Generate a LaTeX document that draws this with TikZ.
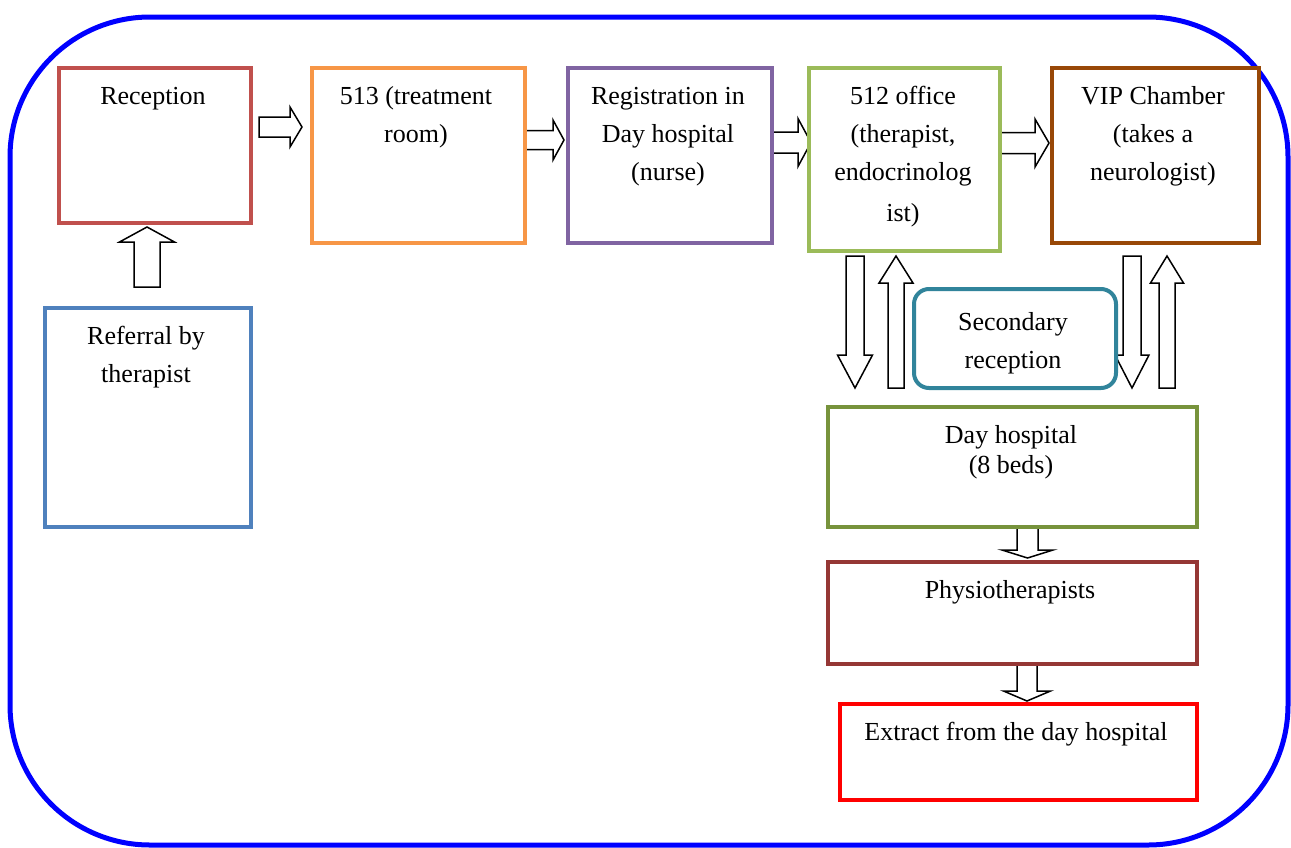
\documentclass[tikz,border=0pt]{standalone}
\usepackage{fontspec}
\setmainfont{Liberation Serif}
\definecolor{cRec}{HTML}{C0504D}
\definecolor{cTreat}{HTML}{F79646}
\definecolor{cReg}{HTML}{8064A2}
\definecolor{cOff}{HTML}{9BBB59}
\definecolor{cVip}{HTML}{984807}
\definecolor{cRef}{HTML}{4F81BD}
\definecolor{cSec}{HTML}{31849B}
\definecolor{cDay}{HTML}{77933C}
\definecolor{cPhy}{HTML}{953735}
\definecolor{cExt}{HTML}{FF0000}
\newcommand\blockH[6]{\draw[blockarrow] (#1,{#3-#5}) -- (#6,{#3-#5}) -- (#6,{#3-#4}) -- (#2,#3) -- (#6,{#3+#4}) -- (#6,{#3+#5}) -- (#1,{#3+#5}) -- cycle;}
\newcommand\blockV[6]{\draw[blockarrow] ({#3-#5},#1) -- ({#3-#5},#6) -- ({#3-#4},#6) -- (#3,#2) -- ({#3+#4},#6) -- ({#3+#5},#6) -- ({#3+#5},#1) -- cycle;}
\newcommand\lines[1]{\begin{tabular}[t]{@{}c@{}}#1\end{tabular}}
\tikzset{
  box/.style={draw=#1, line width=4pt, fill=white, inner sep=0pt, anchor=north west},
  txt/.style={anchor=base, inner sep=0pt, font=\fontsize{26}{38}\selectfont},
  blockarrow/.style={draw=black, line width=1.5pt, fill=white, line join=miter},
}
\begin{document}
\begin{tikzpicture}[x=1pt,y=-1pt]
\useasboundingbox (0,0) rectangle (1291,847);
% outer frame
\draw[blue, line width=5pt, rounded corners=140pt] (10,17) rectangle (1288,845);
% block arrows
\blockH{259}{302}{127}{20}{10}{290}
\blockH{521}{564}{140}{20}{9.5}{553}
\blockH{767}{811}{142.5}{24}{10.5}{798}
\blockH{997}{1049}{143}{24}{10.5}{1035}
\blockV{287}{227}{147}{27.5}{13}{242}
\blockV{256}{388}{855}{17.5}{9}{355}
\blockV{388}{256}{896}{17}{8}{283}
\blockV{256}{388}{1132}{17}{9}{355}
\blockV{388}{256}{1167}{16.5}{8}{283}
\blockV{525}{558}{1027.5}{25.5}{10.5}{550}
\blockV{662}{701}{1027}{23.5}{10}{691}
% boxes
\node[box=cRec, minimum width=192pt, minimum height=155pt] (rec) at (57,66) {};
\node[box=cTreat, minimum width=213pt, minimum height=175pt] (treat) at (310,66) {};
\node[box=cReg, minimum width=204pt, minimum height=175pt] (reg) at (566,66) {};
\node[box=cOff, minimum width=191pt, minimum height=183pt] (off) at (807,66) {};
\node[box=cVip, minimum width=207pt, minimum height=175pt] (vip) at (1050,66) {};
\node[box=cRef, minimum width=206pt, minimum height=219pt] (ref) at (43,306) {};
\node[box=cSec, rounded corners=15pt, minimum width=202pt, minimum height=99pt] (sec) at (912,287) {};
\node[box=cDay, minimum width=369pt, minimum height=120pt] (day) at (826,405) {};
\node[box=cPhy, minimum width=369pt, minimum height=102pt] (phy) at (826,560) {};
\node[box=cExt, minimum width=357pt, minimum height=96pt] (ext) at (838,702) {};
% texts
\node[txt] (rec-t) at (153,104) {Reception};
\node[txt] (treat-t) at (416,104) {\lines{513 (treatment\\room)}};
\node[txt] (reg-t) at (668,104) {\lines{Registration in\\Day hospital\\(nurse)}};
\node[txt] (off-t) at (903,104) {\lines{512 office\\(therapist,\\endocrinolog\\[3pt]ist)}};
\node[txt] (vip-t) at (1153,104) {\lines{VIP Chamber\\(takes a\\neurologist)}};
\node[txt] (ref-t) at (146,344) {\lines{Referral by\\therapist}};
\node[txt] (sec-t) at (1013,330) {\lines{Secondary\\reception}};
\node[txt, font=\fontsize{26}{30}\selectfont] (day-t) at (1011,443) {\lines{Day hospital\\(8 beds)}};
\node[txt] (phy-t) at (1010,598) {Physiotherapists};
\node[txt] (ext-t) at (1016,740) {Extract from the day hospital};
\end{tikzpicture}
\end{document}
